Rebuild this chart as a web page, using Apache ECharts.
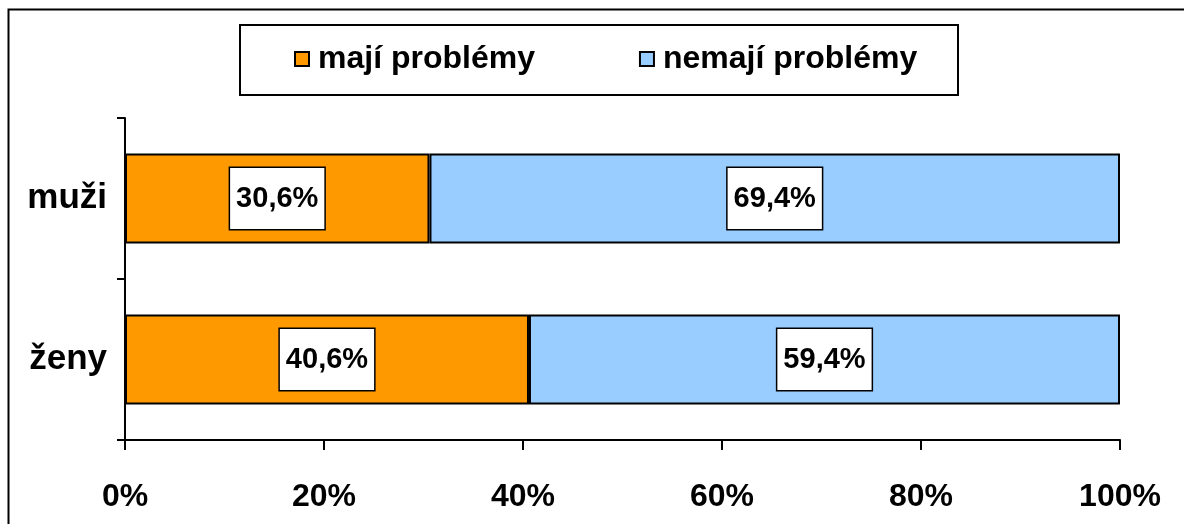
<!DOCTYPE html>
<html>
<head>
<meta charset="utf-8">
<script src="https://cdn.jsdelivr.net/npm/echarts@6/dist/echarts.min.js"></script>
<style>
  html, body { margin: 0; padding: 0; background: #fff; }
  #main { width: 1184px; height: 524px; }
</style>
</head>
<body>
<div id="main"></div>
<script>
// kategorie a hodnoty (v %)
const categories = ["muži", "ženy"];
const majiProblemy = [30.6, 40.6];
const nemajiProblemy = [69.4, 59.4];
const seriesNames = ["mají problémy", "nemají problémy"];

const FONT = "Liberation Sans, Arial, sans-serif";

function pct(v) {
  return v.toFixed(1).replace(".", ",") + "%";
}

const labelStyle = {
  show: true,
  position: "inside",
  formatter: p => pct(p.value),
  color: "#000",
  fontFamily: FONT,
  fontWeight: "bold",
  fontSize: 29,
  backgroundColor: "#fff",
  borderColor: "#000",
  borderWidth: 1.5,
  padding: [16, 6]
};

let myChart = echarts.init(document.getElementById("main"));
myChart.setOption({
  animation: false,
  backgroundColor: "#fff",
  graphic: [
    {
      type: "rect",
      shape: { x: 8.5, y: 9.5, width: 1300, height: 600 },
      style: { fill: "none", stroke: "#000", lineWidth: 2 },
      silent: true
    },
    {
      type: "rect",
      shape: { x: 240, y: 25, width: 718, height: 70 },
      style: { fill: "#fff", stroke: "#000", lineWidth: 2 },
      silent: true
    }
  ],
  legend: {
    left: 289,
    top: 38,
    itemGap: 104,
    itemWidth: 14,
    itemHeight: 14,
    icon: "rect",
    data: seriesNames,
    textStyle: {
      fontFamily: FONT,
      fontWeight: "bold",
      fontSize: 32,
      color: "#000",
      padding: [0, 0, 0, 4]
    }
  },
  grid: {
    left: 125,
    right: 64,
    top: 118,
    bottom: 84,
    containLabel: false
  },
  xAxis: {
    type: "value",
    min: 0,
    max: 100,
    interval: 20,
    splitLine: { show: false },
    axisLine: { show: true, lineStyle: { color: "#000", width: 2 } },
    axisTick: { show: true, length: 10, lineStyle: { color: "#000", width: 2 } },
    axisLabel: {
      formatter: "{value}%",
      margin: 41,
      color: "#000",
      fontFamily: FONT,
      fontWeight: "bold",
      fontSize: 32
    }
  },
  yAxis: {
    type: "category",
    inverse: true,
    data: categories,
    axisLine: { show: true, lineStyle: { color: "#000", width: 2 } },
    axisTick: { show: true, length: 8, lineStyle: { color: "#000", width: 2 } },
    axisLabel: {
      margin: 18,
      color: "#000",
      fontFamily: FONT,
      fontWeight: "bold",
      fontSize: 35
    }
  },
  series: [
    {
      name: seriesNames[0],
      type: "bar",
      stack: "total",
      barWidth: "56%",
      data: majiProblemy,
      itemStyle: { color: "#FF9900", borderColor: "#000", borderWidth: 2 },
      label: labelStyle
    },
    {
      name: seriesNames[1],
      type: "bar",
      stack: "total",
      barWidth: "56%",
      data: nemajiProblemy,
      itemStyle: { color: "#99CCFF", borderColor: "#000", borderWidth: 2 },
      label: labelStyle
    }
  ]
});
</script>
</body>
</html>
